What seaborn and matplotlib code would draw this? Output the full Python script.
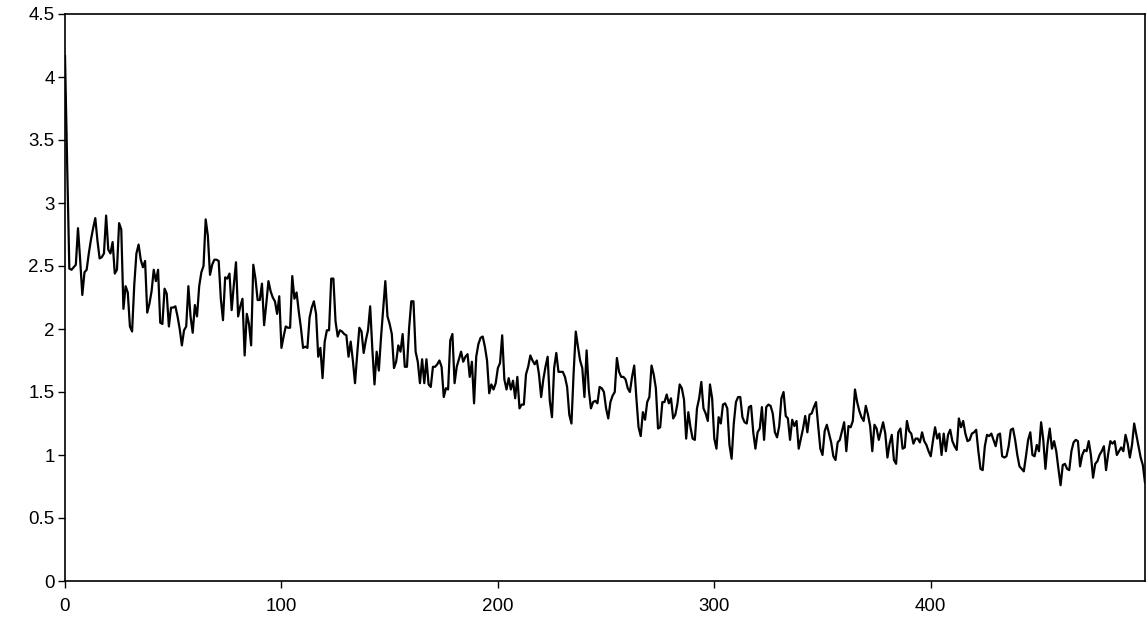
import numpy as np
import pandas as pd
import matplotlib
matplotlib.use("Agg")
import matplotlib.pyplot as plt
import seaborn as sns

# values, one per step (0..499)
values = [
    4.17, 3.30, 2.48, 2.47, 2.49, 2.51, 2.80, 2.55, 2.27, 2.45,
    2.47, 2.60, 2.71, 2.80, 2.88, 2.70, 2.56, 2.57, 2.60, 2.90,
    2.63, 2.60, 2.69, 2.44, 2.47, 2.84, 2.79, 2.16, 2.34, 2.29,
    2.02, 1.98, 2.35, 2.60, 2.67, 2.55, 2.49, 2.54, 2.13, 2.20,
    2.30, 2.47, 2.38, 2.47, 2.05, 2.04, 2.32, 2.28, 2.02, 2.17,
    2.17, 2.18, 2.10, 2.00, 1.87, 1.99, 2.02, 2.34, 2.10, 1.97,
    2.19, 2.10, 2.34, 2.45, 2.50, 2.87, 2.74, 2.43, 2.51, 2.55,
    2.55, 2.54, 2.24, 2.07, 2.41, 2.40, 2.44, 2.15, 2.35, 2.53,
    2.10, 2.18, 2.24, 1.79, 2.12, 2.04, 1.87, 2.51, 2.40, 2.23,
    2.23, 2.36, 2.03, 2.20, 2.38, 2.30, 2.25, 2.22, 2.12, 2.26,
    1.85, 1.94, 2.02, 2.01, 2.01, 2.42, 2.24, 2.29, 2.14, 2.01,
    1.85, 1.86, 1.85, 2.09, 2.17, 2.22, 2.12, 1.78, 1.85, 1.61,
    1.90, 1.99, 1.99, 2.40, 2.40, 2.06, 1.94, 1.99, 1.98, 1.96,
    1.95, 1.78, 1.90, 1.75, 1.57, 1.80, 2.01, 1.98, 1.81, 1.91,
    1.99, 2.18, 1.84, 1.56, 1.82, 1.67, 1.93, 2.15, 2.38, 2.10,
    2.04, 1.96, 1.69, 1.74, 1.87, 1.82, 1.96, 1.70, 1.70, 2.01,
    2.22, 2.22, 1.82, 1.74, 1.57, 1.76, 1.57, 1.76, 1.56, 1.54,
    1.70, 1.70, 1.72, 1.75, 1.70, 1.46, 1.53, 1.52, 1.91, 1.96,
    1.57, 1.70, 1.76, 1.82, 1.74, 1.78, 1.80, 1.62, 1.74, 1.41,
    1.78, 1.88, 1.93, 1.94, 1.86, 1.75, 1.49, 1.56, 1.52, 1.57,
    1.69, 1.73, 1.95, 1.60, 1.52, 1.61, 1.52, 1.59, 1.45, 1.62,
    1.37, 1.40, 1.40, 1.64, 1.70, 1.79, 1.75, 1.72, 1.75, 1.64,
    1.46, 1.60, 1.70, 1.78, 1.43, 1.30, 1.69, 1.81, 1.66, 1.66,
    1.66, 1.62, 1.54, 1.32, 1.25, 1.65, 1.98, 1.86, 1.75, 1.69,
    1.46, 1.83, 1.52, 1.37, 1.42, 1.43, 1.41, 1.54, 1.53, 1.50,
    1.37, 1.29, 1.42, 1.47, 1.50, 1.77, 1.66, 1.62, 1.62, 1.60,
    1.53, 1.50, 1.62, 1.71, 1.45, 1.22, 1.15, 1.34, 1.28, 1.42,
    1.46, 1.71, 1.64, 1.53, 1.21, 1.22, 1.42, 1.42, 1.48, 1.41,
    1.45, 1.29, 1.32, 1.41, 1.56, 1.53, 1.44, 1.13, 1.34, 1.22,
    1.13, 1.12, 1.37, 1.45, 1.58, 1.37, 1.33, 1.27, 1.56, 1.45,
    1.13, 1.05, 1.30, 1.25, 1.40, 1.41, 1.37, 1.08, 0.97, 1.25,
    1.42, 1.46, 1.46, 1.30, 1.26, 1.25, 1.38, 1.39, 1.18, 1.05,
    1.18, 1.21, 1.38, 1.12, 1.38, 1.40, 1.39, 1.33, 1.18, 1.14,
    1.23, 1.45, 1.50, 1.31, 1.29, 1.12, 1.28, 1.23, 1.27, 1.05,
    1.13, 1.21, 1.31, 1.18, 1.32, 1.33, 1.38, 1.42, 1.23, 1.05,
    1.00, 1.19, 1.24, 1.17, 1.10, 0.99, 0.96, 1.10, 1.12, 1.19,
    1.26, 1.03, 1.23, 1.22, 1.27, 1.52, 1.42, 1.35, 1.30, 1.27,
    1.39, 1.32, 1.23, 1.03, 1.24, 1.21, 1.12, 1.19, 1.26, 1.17,
    0.98, 1.09, 1.16, 0.96, 0.93, 1.18, 1.21, 1.05, 1.06, 1.27,
    1.19, 1.17, 1.09, 1.13, 1.13, 1.10, 1.18, 1.11, 1.08, 1.03,
    0.99, 1.11, 1.22, 1.13, 1.17, 1.00, 1.17, 1.03, 1.16, 1.20,
    1.11, 1.07, 1.04, 1.29, 1.22, 1.27, 1.17, 1.11, 1.12, 1.17,
    1.18, 1.20, 1.03, 0.89, 0.88, 1.07, 1.16, 1.15, 1.17, 1.12,
    1.07, 1.16, 1.17, 0.99, 0.98, 0.99, 1.07, 1.20, 1.21, 1.12,
    1.00, 0.91, 0.89, 0.87, 0.99, 1.12, 1.18, 1.00, 0.99, 1.08,
    1.03, 1.26, 1.12, 0.89, 1.09, 1.21, 1.05, 1.11, 1.03, 0.89,
    0.76, 0.92, 0.93, 0.89, 0.88, 1.03, 1.10, 1.12, 1.11, 0.91,
    1.00, 1.04, 1.03, 1.11, 1.00, 0.82, 0.93, 0.95, 1.00, 1.03,
    1.07, 0.88, 1.01, 1.11, 1.09, 1.11, 1.00, 1.03, 1.06, 1.03,
    1.16, 1.09, 0.98, 1.08, 1.25, 1.16, 1.07, 0.98, 0.92, 0.78,
]
steps = np.arange(len(values))

x_ticks = [0, 100, 200, 300, 400]
y_ticks = [0, 0.5, 1, 1.5, 2, 2.5, 3, 3.5, 4, 4.5]
y_labels = ["0", "0.5", "1", "1.5", "2", "2.5", "3", "3.5", "4", "4.5"]

df = pd.DataFrame({"step": steps, "value": values})

sns.set_style("ticks")
plt.rcParams["font.family"] = ["Liberation Sans", "DejaVu Sans"]

fig = plt.figure(figsize=(11.47, 6.33), dpi=100)
ax = fig.add_axes([65 / 1147, 1 - 581 / 633, 1080 / 1147, 567 / 633])

sns.lineplot(data=df, x="step", y="value", color="black", linewidth=1.6, ax=ax)

ax.set_xlim(0, len(values) - 1)
ax.set_ylim(0, 4.5)
ax.set_xticks(x_ticks)
ax.set_yticks(y_ticks)
ax.set_yticklabels(y_labels)
ax.set_xlabel("")
ax.set_ylabel("")
ax.tick_params(labelsize=13.5, length=5, width=1, colors="black")
ax.tick_params(axis="x", pad=7)
ax.tick_params(axis="y", pad=2.5)
for s in ax.spines.values():
    s.set_visible(True)
    s.set_color("black")
    s.set_linewidth(1.2)

fig.savefig("out.png", dpi=100)
